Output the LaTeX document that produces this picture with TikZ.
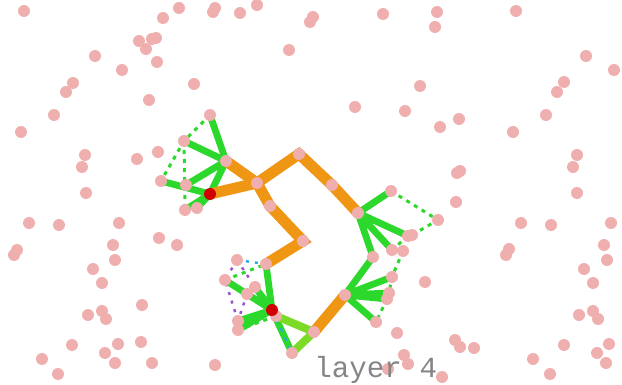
\documentclass[tikz,border=0pt]{standalone}
\usepackage{fontspec}
\newfontfamily\monofont{Liberation Mono}
\usepackage{tikz}
\definecolor{rosa}{HTML}{F0AFAF}
\definecolor{laranja}{HTML}{EF9614}
\definecolor{verde}{HTML}{2DD82D}
\definecolor{lima}{HTML}{7CDB26}
\definecolor{roxo}{HTML}{9A4FD0}
\definecolor{ciano}{HTML}{2AA8E0}
\definecolor{vermelho}{HTML}{D00000}
\definecolor{cinza}{HTML}{858585}

\begin{document}
\begin{tikzpicture}[x=0.5pt, y=-0.5pt,
  trunk/.style={laranja, line width=5.5pt},
  branch/.style={verde, line width=3.4pt},
  twig/.style={lima, line width=4pt},
  hint/.style={verde, line width=1.5pt, dash pattern=on 2pt off 2.5pt},
  spot/.style={rosa}, hub/.style={vermelho}]
  \useasboundingbox (0,0) rectangle (622,385);
  \foreach \x/\y in {24/11,179/8,163/18,139/41,152/39,156/38,146/49,157/62,95/56,122/70,73/83,66/92,194/84,149/100,54/115,
    21/132,85/155,82/167,137/159,158/152,86/193,29/223,59/225,119/223,159/238,177/245,113/245,
    17/250,14/255,115/260,93/269,102/283,142/305,88/315,102/311,106/319,72/345,118/344,105/353,141/342,42/359,115/363,152/363,58/374,
    215/8,213/12,240/13,257/5,313/17,310/22,383/14,289/50,355/107,405/111,
    437/12,435/27,516/11,586/56,614/70,564/82,557/92,420/86,546/115,459/119,440/127,513/132,
    577/155,573/167,577/193,457/173,460/171,456/202,521/223,551/225,611/223,604/245,509/249,506/255,
    607/260,584/269,593/283,425/282,579/315,593/311,598/319,609/344,564/345,597/353,606/363,533/359,550/374,455/340,460/347,474/348,442/377,
    215/365,404/355,408/364,388/369,397/333}
    \fill[spot] (\x,\y) circle (3pt);
  \coordinate (a1) at (210,194); \coordinate (a2) at (257,183); \coordinate (a3) at (299,154);
  \coordinate (a4) at (332,185); \coordinate (a5) at (358,213);
  \coordinate (b1) at (226,161); \coordinate (b2) at (270,206); \coordinate (b3) at (303,241); \coordinate (b4) at (266,264);
  \coordinate (c1) at (345,295); \coordinate (c2) at (314,332);
  \coordinate (g1) at (210,115); \coordinate (g2) at (184,141); \coordinate (g3) at (186,185);
  \coordinate (g4) at (161,181); \coordinate (g5) at (197,208); \coordinate (g6) at (185,210);
  \coordinate (r1) at (391,191); \coordinate (r2) at (438,220); \coordinate (r3) at (408,236); \coordinate (r3b) at (412,235);
  \coordinate (r4) at (392,250); \coordinate (r4b) at (403,251); \coordinate (r5) at (373,257);
  \coordinate (r6) at (392,277); \coordinate (r7) at (389,293); \coordinate (r8) at (387,299); \coordinate (r9) at (376,322);
  \coordinate (d0) at (272,310); \coordinate (d2) at (237,260); \coordinate (d3) at (225,280); \coordinate (d4) at (255,287);
  \coordinate (d5) at (247,294); \coordinate (d6) at (276,316); \coordinate (d7) at (238,321); \coordinate (d8) at (238,330);
  \coordinate (d9) at (292,353);
  \draw[hint] (g1) -- (g2) -- (g4); \draw[hint] (g2) -- (g6);
  \draw[hint] (r1) -- (r2) -- (r3b); \draw[hint] (r3) -- (r4); \draw[hint] (r4b) -- (r6) -- (r7); \draw[hint] (r8) -- (r9);
  \draw[hint] (d3) -- (b4); \draw[hint] (d8) -- (d6);
  \draw[roxo, line width=1.2pt, dash pattern=on 1.5pt off 3pt] (d2) -- (d3) -- (d7) (d2) -- (d4) (d5) -- (d7);
  \draw[ciano, line width=1.2pt, dash pattern=on 1.5pt off 3pt] (d2) -- (b4);
  \draw[branch] (b1) -- (g1) (b1) -- (g2) (b1) -- (g3) (b1) -- (a1) (a1) -- (g4) (a1) -- (g5) (a1) -- (g6);
  \draw[branch] (a5) -- (r1) (a5) -- (r3) (a5) -- (r4) (a5) -- (r5) -- (c1);
  \draw[branch] (c1) -- (r6) (c1) -- (r7) (c1) -- (r8) (c1) -- (r9);
  \draw[branch] (b4) -- (d0) (d3) -- (d0) (d4) -- (d0) (d5) -- (d0) (d7) -- (d0) (d8) -- (d0) (d0) -- (d9);
  \draw[ciano, line width=1pt, dash pattern=on 2pt off 3pt] (d0) -- (d9);
  \draw[twig] (d6) -- (c2) -- (d9);
  \draw[trunk] (a1) -- (a2) (b1) -- (a2) (a2) -- (a3) -- (a4) -- (a5) (a2) -- (b2) -- (b3) -- (b4) (c1) -- (c2);
  \foreach \n in {a2,a3,a4,a5,b1,b2,b3,b4,c1,c2,g1,g2,g3,g4,g5,g6,r1,r2,r3,r3b,r4,r4b,r5,r6,r7,r8,r9,d2,d3,d4,d5,d6,d7,d8,d9}
    \fill[spot] (\n) circle (3pt);
  \fill[hub] (a1) circle (3pt); \fill[hub] (d0) circle (3pt);
  \node[anchor=base west, inner sep=0pt, text=cinza, font=\monofont\fontsize{14.6}{16}\selectfont] (title) at (314,377) {layer 4};
\end{tikzpicture}
\end{document}
